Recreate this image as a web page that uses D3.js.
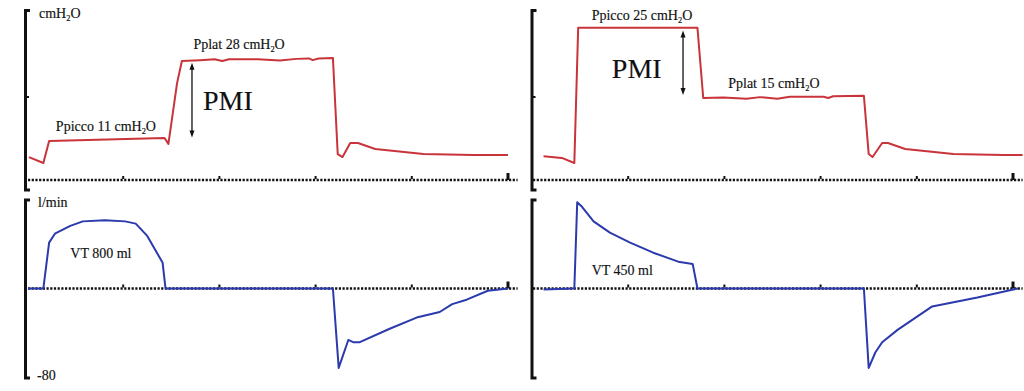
<!DOCTYPE html>
<html><head><meta charset="utf-8">
<script src="https://cdn.jsdelivr.net/npm/d3@7"></script>
<style>
html,body{margin:0;padding:0;background:#fff;}
svg{display:block;}
text{font-family:"Liberation Serif","Times New Roman",serif;fill:#111;stroke:#111;stroke-width:0.15;}
</style>
</head><body>
<svg id="c" width="1024" height="391"></svg>
<script>
// ---------- DATA ----------
const timeTicks = [1, 2, 3, 4, 5];

// Volume-controlled ventilation, left case (pressure, cmH2O)
const leftPressureT = [0.02,0.17,0.23,1.43,1.47,1.56,1.61,1.80,1.95,2.03,2.10,2.40,2.63,2.80,2.93,2.97,3.03,3.18,3.23,3.28,3.36,3.44,3.62,4.12,4.64,5.00];
const leftPressureV = [5.4,4.0,9.2,9.9,8.5,22.8,28.0,28.2,28.4,28.0,28.4,28.4,28.1,28.5,28.6,28.2,28.6,28.7,6.1,5.4,8.7,8.7,7.3,6.1,5.9,5.9];

// Right case (pressure, cmH2O)
const rightPressureT = [0.12,0.31,0.44,0.48,1.72,1.78,1.99,2.23,2.37,2.55,2.68,3.03,3.08,3.13,3.45,3.50,3.54,3.64,3.70,3.88,4.38,4.90,5.10];
const rightPressureV = [5.6,5.2,4.0,35.8,35.8,19.3,19.4,19.1,19.5,19.1,19.6,19.6,19.3,19.7,19.8,6.1,5.4,8.7,8.7,7.3,6.1,5.9,5.9];

// Left case (flow, l/min)
const leftFlowT = [0.01,0.17,0.23,0.29,0.45,0.58,0.81,1.02,1.13,1.25,1.41,1.44,3.18,3.24,3.34,3.39,3.46,3.77,4.05,4.29,4.42,4.57,4.79,5.00];
const leftFlowV = [0,0,41,49,56,60,61,60,58,47,23,0,0,-71,-46,-48,-48,-36,-26,-21,-14,-10,-2,0];

// Right case (flow, l/min)
const rightFlowT = [0.12,0.43,0.44,0.47,0.52,0.64,0.81,1.02,1.26,1.52,1.67,1.72,3.45,3.50,3.57,3.64,3.80,4.16,4.63,5.05];
const rightFlowV = [-1,0,0,77,73,60,50,41,32,24,22,0,0,-71,-57,-48,-37,-16,-8,0];

const pressureUnit = "cmH";
const flowUnit = "l/min";
const flowMinLabel = "-80";
const leftPicco = ["Ppicco 11 cmH", "O"];
const leftPlat = ["Pplat 28 cmH", "O"];
const rightPicco = ["Ppicco 25 cmH", "O"];
const rightPlat = ["Pplat 15 cmH", "O"];
const pmiLabel = "PMI";
const leftVT = "VT 800 ml";
const rightVT = "VT 450 ml";

// ---------- DRAW ----------
const svg = d3.select("#c");
const RED = "#c9343b", BLUE = "#2b3aad";

const yP = d3.scaleLinear().domain([0, 40]).range([180, 10]);
const yF = d3.scaleLinear().domain([-80, 80]).range([378, 199]);

function xScale(x0) { return d3.scaleLinear().domain([0, 5]).range([x0, x0 + 481]); }
const xL = xScale(27), xR = xScale(532);

function bracket(xpix, yTop, yBot, yMid) {
  let p = `M${xpix + 4.5},${yTop} H${xpix} V${yBot} H${xpix + 4.5}`;
  svg.append("path").attr("d", p).attr("fill", "none")
    .attr("stroke", "#111").attr("stroke-width", 3);
  if (yMid !== null) {
    svg.append("line").attr("x1", xpix).attr("x2", xpix + 3.5)
      .attr("y1", yMid).attr("y2", yMid).attr("stroke", "#111").attr("stroke-width", 2);
  }
}

function baseline(xs, y0) {
  svg.append("line").attr("x1", xs(0) + 1).attr("x2", xs(5.1))
    .attr("y1", y0).attr("y2", y0).attr("stroke", "#111")
    .attr("stroke-width", 2.5).attr("stroke-dasharray", "2.2,1.5");
  timeTicks.forEach(t => {
    const big = t === timeTicks[timeTicks.length - 1];
    svg.append("rect").attr("x", xs(t) - (big ? 1.5 : 1)).attr("y", y0 - (big ? 7 : 4))
      .attr("width", big ? 3 : 2).attr("height", big ? 7 : 3).attr("fill", "#111");
  });
}

function trace(xs, ys, T, V, color) {
  const pts = T.map((t, i) => [t, V[i]]);
  svg.append("path").datum(pts)
    .attr("d", d3.line().x(d => xs(d[0])).y(d => ys(d[1])))
    .attr("fill", "none").attr("stroke", color).attr("stroke-width", 2)
    .attr("stroke-linejoin", "round");
}

function subLabel(x, y, parts, size) {
  const t = svg.append("text").attr("x", x).attr("y", y).attr("font-size", size);
  t.append("tspan").text(parts[0]);
  t.append("tspan").attr("font-size", size * 0.6).attr("dy", 3).text("2");
  t.append("tspan").attr("dy", -3).text(parts[1]);
}

function label(x, y, s, size) {
  svg.append("text").attr("x", x).attr("y", y).attr("font-size", size).text(s);
}

function dArrow(x, y1, y2) {
  svg.append("line").attr("x1", x).attr("x2", x).attr("y1", y1 + 4).attr("y2", y2 - 4)
    .attr("stroke", "#111").attr("stroke-width", 1.3);
  svg.append("path").attr("d", `M${x},${y1} L${x - 2.5},${y1 + 7} L${x + 2.5},${y1 + 7} Z`).attr("fill", "#111");
  svg.append("path").attr("d", `M${x},${y2} L${x - 2.5},${y2 - 7} L${x + 2.5},${y2 - 7} Z`).attr("fill", "#111");
}

// Brackets
bracket(25.5, yP(40) + 0.5, yP(0) + 10, yP(20) + 2);
bracket(532, yP(40) + 0.5, yP(0) + 10, yP(20) + 2);
bracket(25.5, yF(80) + 1, yF(-80), null);
bracket(532, yF(80) + 1, yF(-80), null);

// Baselines
baseline(xL, yP(0));
baseline(xR, yP(0));
baseline(xL, yF(0));
baseline(xR, yF(0));

// Traces
trace(xL, yP, leftPressureT, leftPressureV, RED);
trace(xR, yP, rightPressureT, rightPressureV, RED);
trace(xL, yF, leftFlowT, leftFlowV, BLUE);
trace(xR, yF, rightFlowT, rightFlowV, BLUE);

// Axis labels
subLabel(xL(0) + 12, 18, [pressureUnit, "O"], 14);
label(xL(0) + 11, 207, flowUnit, 14);
label(xL(0) + 10, 380, flowMinLabel, 14);

// Annotations (left)
subLabel(xL(0.30), yP(11.5), leftPicco, 14);
subLabel(xL(1.73), yP(30.8), leftPlat, 14);
label(xL(1.83), yP(16.5), pmiLabel, 28);
dArrow(xL(1.715), yP(27.6), yP(10.0));
label(xL(0.45), yF(27), leftVT, 14);

// Annotations (right)
subLabel(xR(0.62), yP(37.6), rightPicco, 14);
label(xR(0.83), yP(24), pmiLabel, 28);
dArrow(xR(1.57), yP(35.2), yP(20.0));
subLabel(xR(2.04), yP(21.6), rightPlat, 14);
label(xR(0.62), yF(11.7), rightVT, 14);
</script>
</body></html>
